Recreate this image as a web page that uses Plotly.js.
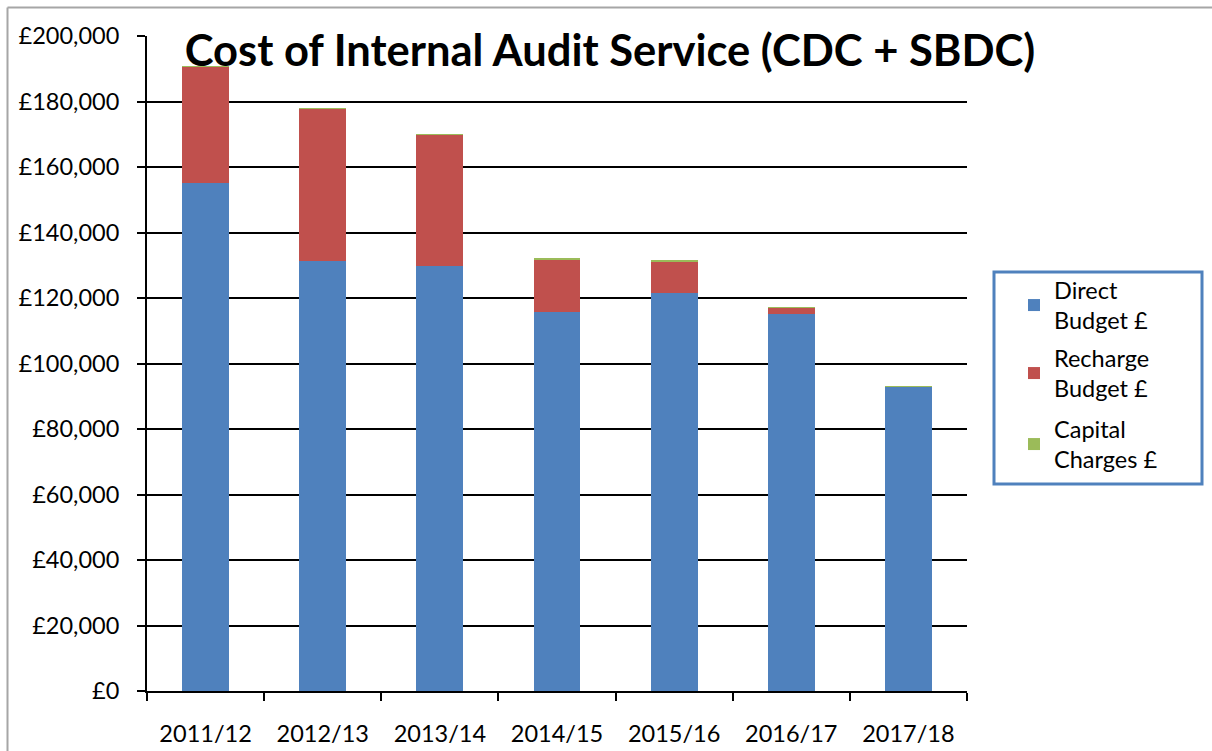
<!DOCTYPE html>
<html>
<head>
<meta charset="utf-8">
<script src="https://cdn.plot.ly/plotly-3.0.1.min.js"></script>
<style>html,body{margin:0;padding:0;background:#fff;}#chart{width:1212px;height:751px;}</style>
</head>
<body>
<div id="chart"></div>
<script>
const years = ["2011/12","2012/13","2013/14","2014/15","2015/16","2016/17","2017/18"];
const directBudget = [155100, 131300, 129800, 115800, 121400, 115200, 92800];
const rechargeBudget = [35300, 46300, 39900, 15900, 9700, 1800, 0];
const capitalCharges = [400, 400, 400, 400, 400, 400, 400];
const tickValues = [0,20000,40000,60000,80000,100000,120000,140000,160000,180000,200000];
const tickLabels = ["£0","£20,000","£40,000","£60,000","£80,000","£100,000","£120,000","£140,000","£160,000","£180,000","£200,000"];
const seriesNames = ["Direct<br>Budget £","Recharge<br>Budget £","Capital<br>Charges £"];

const FONT = "Lato, 'Liberation Sans', sans-serif";
const L = 147, R = 967, T = 36, B = 691;
const px = v => (v - L) / (R - L);
const py = v => (B - v) / (B - T);

const data = [
  {type:"bar", x:years, y:directBudget, name:seriesNames[0], marker:{color:"#4f81bd"}, legend:"legend"},
  {type:"bar", x:years, y:rechargeBudget, name:seriesNames[1], marker:{color:"#c0504d"}, legend:"legend2"},
  {type:"bar", x:years, y:capitalCharges, name:seriesNames[2], marker:{color:"#9bbb59"}, legend:"legend3"}
];

const legendBase = top => ({x:px(1014), y:py(top), xanchor:"left", yanchor:"top", bgcolor:"rgba(0,0,0,0)", borderwidth:0,
          font:{family:FONT, size:23.5}, itemwidth:30});

const layout = {
  width:1212, height:751,
  margin:{l:L, r:1212-R, t:T, b:751-B, pad:0},
  paper_bgcolor:"#fff", plot_bgcolor:"#fff",
  barmode:"stack", bargap:0.6,
  font:{family:FONT, size:23, color:"#000"},
  title:{text:"<b>Cost of Internal Audit Service (CDC + SBDC)</b>", font:{family:FONT, size:43.5, color:"#000"},
         x:610/1212, xref:"container", xanchor:"center", y:1-51/751, yref:"container", yanchor:"middle"},
  xaxis:{type:"category", showgrid:false, showline:true, linecolor:"#000", linewidth:2,
         ticks:"outside", tickson:"boundaries", ticklen:8, tickwidth:2, tickcolor:"#000",
         ticklabelstandoff:21, tickfont:{family:FONT, size:23.5}, fixedrange:true},
  yaxis:{range:[0,200000], tickvals:tickValues, ticktext:tickLabels, showgrid:true, gridcolor:"#000", gridwidth:2,
         showline:true, linecolor:"#000", linewidth:2, ticks:"outside", ticklen:8, tickwidth:2, tickcolor:"#000",
         ticklabelstandoff:13, tickfont:{family:FONT, size:23.5}, zeroline:false, fixedrange:true},
  showlegend:true,
  legend:legendBase(268),
  legend2:legendBase(336),
  legend3:legendBase(407),
  shapes:[
    {type:"rect", xref:"paper", yref:"paper", x0:px(994), x1:px(1202), y0:py(272), y1:py(484),
     line:{color:"#4f81bd", width:3}, fillcolor:"rgba(0,0,0,0)"},
    {type:"line", xref:"paper", yref:"paper", x0:px(7.5), x1:px(1215), y0:py(7.5), y1:py(7.5), line:{color:"#a6a6a6", width:2}},
    {type:"line", xref:"paper", yref:"paper", x0:px(7.5), x1:px(7.5), y0:py(7.5), y1:py(760), line:{color:"#a6a6a6", width:2}}
  ]
};
Plotly.newPlot("chart", data, layout, {displayModeBar:false, staticPlot:true});
</script>
</body>
</html>
